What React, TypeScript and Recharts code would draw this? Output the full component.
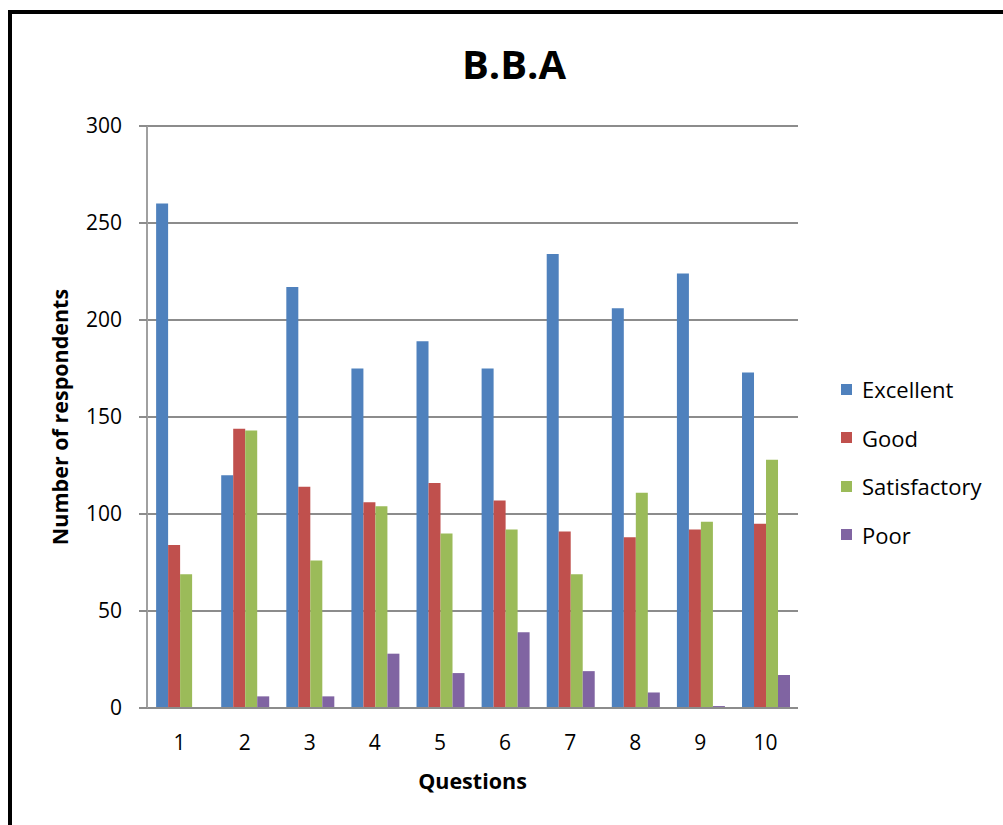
import React from 'react';
import { BarChart, Bar, XAxis, YAxis, CartesianGrid, Legend } from 'recharts';

const questions = ['1', '2', '3', '4', '5', '6', '7', '8', '9', '10'];
const excellent = [260, 120, 217, 175, 189, 175, 234, 206, 224, 173];
const good = [84, 144, 114, 106, 116, 107, 91, 88, 92, 95];
const satisfactory = [69, 143, 76, 104, 90, 92, 69, 111, 96, 128];
const poor = [0, 6, 6, 28, 18, 39, 19, 8, 1, 17];
const yTicks = [0, 50, 100, 150, 200, 250, 300];

const series = [
  { key: 'Excellent', color: '#4F81BD' },
  { key: 'Good', color: '#C0504D' },
  { key: 'Satisfactory', color: '#9BBB59' },
  { key: 'Poor', color: '#8064A2' },
];

const data = questions.map((q, i) => ({
  name: q,
  Excellent: excellent[i],
  Good: good[i],
  Satisfactory: satisfactory[i],
  Poor: poor[i],
}));

const font = '"Open Sans", sans-serif';
const gridColor = '#8c8c8c';

const LegendBox = () => (
  <div style={{ fontFamily: font }}>
    {series.map((s) => (
      <div key={s.key} style={{ display: 'flex', alignItems: 'center', height: 48.5 }}>
        <span style={{ width: 11, height: 11, background: s.color, marginRight: 10 }} />
        <span style={{ fontSize: 22, color: '#000' }}>{s.key}</span>
      </div>
    ))}
  </div>
);

const App: React.FC = () => {
  return (
    <div style={{ position: 'absolute', left: 0, top: 0, width: 1003, height: 825, overflow: 'hidden', background: '#fff' }}>
      <div
        style={{
          position: 'absolute',
          left: 8,
          top: 10,
          width: 1100,
          height: 900,
          border: '4px solid #000',
        }}
      />
      <div
        style={{
          position: 'absolute',
          left: 0,
          width: 1028,
          top: 38,
          textAlign: 'center',
          fontFamily: font,
          fontWeight: 700,
          fontSize: 40,
          lineHeight: '52px',
          color: '#000',
        }}
      >
        B.B.A
      </div>
      <div style={{ position: 'absolute', left: 0, top: 0 }}>
        <BarChart
          width={1003}
          height={825}
          data={data}
          margin={{ top: 126, right: 205, bottom: 57, left: 0 }}
          barCategoryGap="14%"
          barGap={0}
        >
          <CartesianGrid horizontal vertical={false} stroke={gridColor} strokeWidth={2} />
          <XAxis
            dataKey="name"
            height={60}
            tickLine={false}
            tickSize={0}
            tickMargin={27}
            axisLine={{ stroke: gridColor, strokeWidth: 2 }}
            tick={{ fill: '#000', fontSize: 21, fontFamily: font }}
            label={{
              value: 'Questions',
              position: 'insideBottom',
              offset: -21,
              style: { fill: '#000', fontSize: 21.5, fontWeight: 700, fontFamily: font },
            }}
          />
          <YAxis
            width={147}
            domain={[0, 300]}
            ticks={yTicks}
            interval={0}
            tickSize={8}
            tickMargin={17}
            tickLine={{ stroke: gridColor, strokeWidth: 2 }}
            axisLine={{ stroke: '#a0a0a0', strokeWidth: 2 }}
            tick={{ fill: '#000', fontSize: 21, fontFamily: font }}
            label={{
              value: 'Number of respondents',
              angle: -90,
              position: 'center',
              dx: -13,
              style: { fill: '#000', fontSize: 21.5, fontWeight: 700, fontFamily: font, textAnchor: 'middle' },
            }}
          />
          <Legend
            layout="vertical"
            align="center"
            verticalAlign="middle"
            wrapperStyle={{ left: 841, top: 365, width: 165 }}
            content={() => <LegendBox />}
          />
          {series.map((s) => (
            <Bar key={s.key} dataKey={s.key} fill={s.color} isAnimationActive={false} />
          ))}
        </BarChart>
      </div>
    </div>
  );
};

export default App;
